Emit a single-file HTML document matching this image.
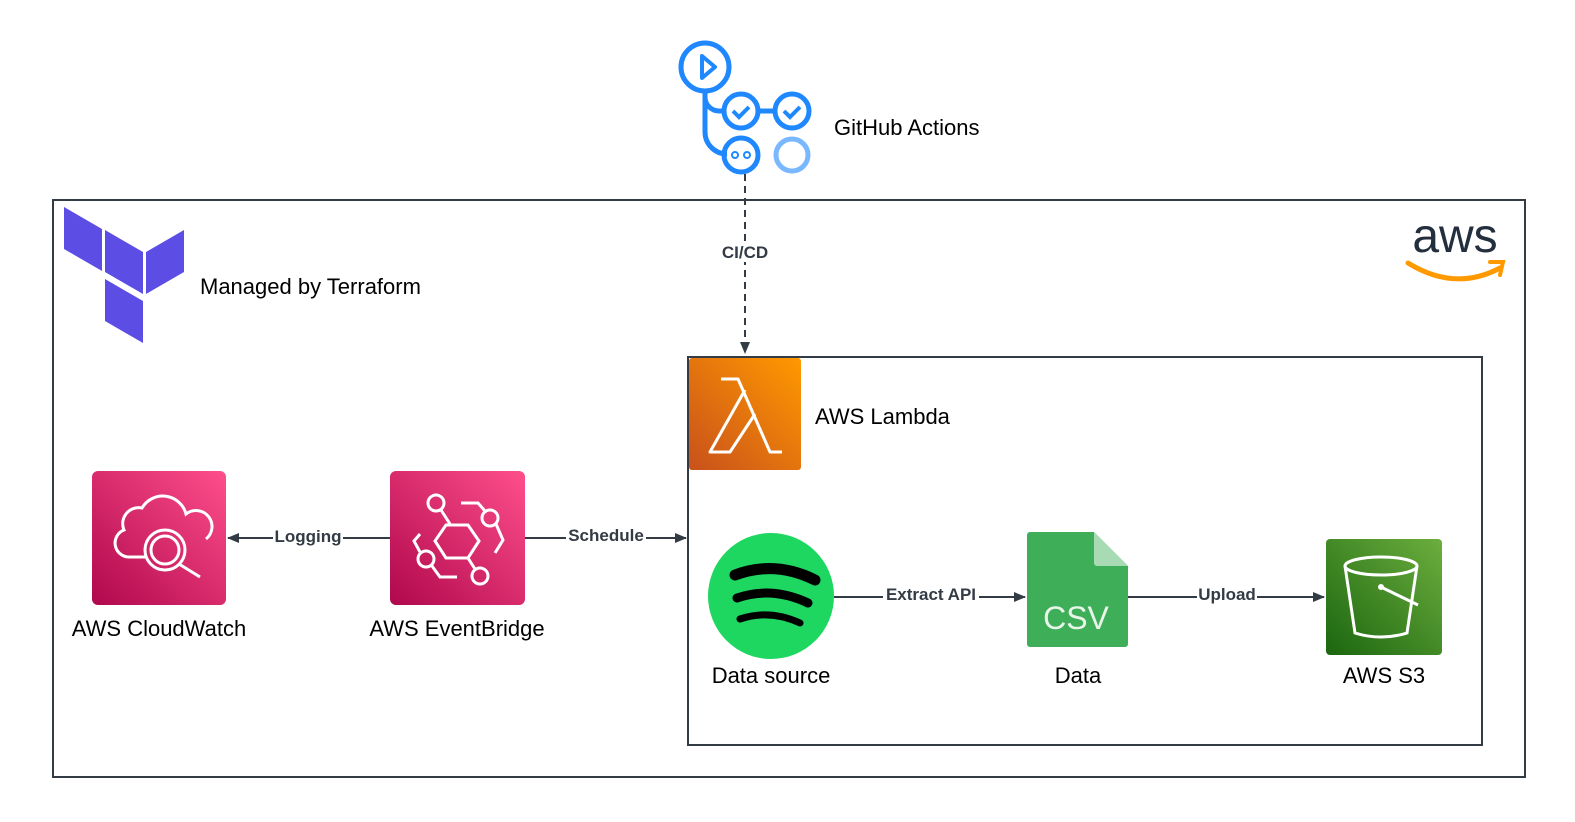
<!DOCTYPE html>
<html><head><meta charset="utf-8"><style>
html,body{margin:0;padding:0;background:#fff;width:1575px;height:822px;overflow:hidden}
text{font-family:"Liberation Sans",Arial,sans-serif}
</style></head><body>
<svg width="1575" height="822" viewBox="0 0 1575 822" xmlns="http://www.w3.org/2000/svg">
<defs>
<linearGradient id="pink" x1="0" y1="1" x2="1" y2="0"><stop offset="0" stop-color="#b0084d"/><stop offset="1" stop-color="#ff4f8b"/></linearGradient>
<linearGradient id="orange" x1="0" y1="1" x2="1" y2="0"><stop offset="0" stop-color="#c8511b"/><stop offset="1" stop-color="#ff9900"/></linearGradient>
<linearGradient id="green" x1="0" y1="1" x2="1" y2="0"><stop offset="0" stop-color="#1b660f"/><stop offset="1" stop-color="#6cae3e"/></linearGradient>
<marker id="ah" markerWidth="12" markerHeight="10" refX="11" refY="5" orient="auto" markerUnits="userSpaceOnUse"><path d="M0,0 L12,5 L0,10 Z" fill="#333b45"/></marker>
</defs>
<rect x="53" y="200" width="1472" height="577" fill="none" stroke="#333b45" stroke-width="2"/>
<rect x="688" y="357" width="794" height="388" fill="none" stroke="#333b45" stroke-width="2"/>
<g fill="none" stroke="#2088ff" stroke-width="5">
<circle cx="705" cy="67" r="24"/>
<path d="M702,56 L715,67 L702,78 Z" stroke-width="4" stroke-linejoin="round"/>
<path d="M705,91 V132 a22,22 0 0 0 22,22"/>
<path d="M705,90 V97 a14,14 0 0 0 14,14 H724"/>
<circle cx="741" cy="111" r="17"/>
<circle cx="792" cy="111" r="17"/>
<path d="M758,111 H775"/>
<path d="M733,111 l6,6 l10,-10 M784,111 l6,6 l10,-10" stroke-width="4"/>
<circle cx="741" cy="155" r="17"/>
<circle cx="792" cy="155" r="16" stroke="#79b8ff"/>
</g>
<circle cx="735" cy="155" r="3" fill="none" stroke="#2088ff" stroke-width="2"/>
<circle cx="747" cy="155" r="3" fill="none" stroke="#2088ff" stroke-width="2"/>
<text x="834" y="135" font-size="22" fill="#000">GitHub Actions</text>
<line x1="745" y1="174" x2="745" y2="353" stroke="#333b45" stroke-width="2" stroke-dasharray="7,5" marker-end="url(#ah)"/>
<rect x="716" y="242" width="59" height="20" fill="#fff"/>
<text x="745" y="258" font-size="17" font-weight="bold" fill="#333b45" text-anchor="middle">CI/CD</text>
<g fill="#5c4ee5">
<polygon points="64,207 102,229 102,271 64,249"/>
<polygon points="105,230 143,252 143,294 105,272"/>
<polygon points="146,252 184,230 184,272 146,294"/>
<polygon points="105,279 143,301 143,343 105,321"/>
</g>
<text x="200" y="294" font-size="22" fill="#000">Managed by Terraform</text>
<text x="1455" y="252" font-size="48" fill="#232f3e" text-anchor="middle">aws</text>
<path d="M1408,263 Q1455,292 1500,268" fill="none" stroke="#ff9900" stroke-width="5" stroke-linecap="round"/>
<path d="M1490,262 L1503,262 L1500,275" fill="none" stroke="#ff9900" stroke-width="4" stroke-linecap="round"/>
<rect x="689" y="358" width="112" height="112" rx="3" fill="url(#orange)"/>
<path d="M721,379 H738 L770,452 H782 M755,414 L730,452 H710 L745,390" fill="none" stroke="#fff" stroke-width="3" stroke-linejoin="round"/>
<text x="815" y="424" font-size="22" fill="#000">AWS Lambda</text>
<rect x="92" y="471" width="134" height="134" rx="6" fill="url(#pink)"/>
<g fill="none" stroke="#fff" stroke-width="3">
<path d="M145,557 H128 a14,14 0 0 1 -4,-27 a16,16 0 0 1 18,-22 a24,24 0 0 1 44,6 a14,14 0 0 1 20,25"/>
<circle cx="165" cy="550" r="20"/><circle cx="165" cy="550" r="14"/>
<path d="M179,564 L200,577"/>
</g>
<text x="159" y="636" font-size="22" fill="#000" text-anchor="middle">AWS CloudWatch</text>
<rect x="390" y="471" width="135" height="134" rx="6" fill="url(#pink)"/>
<g fill="none" stroke="#fff" stroke-width="3">
<polygon points="446,525 468,525 479,541 468,558 446,558 435,541"/>
<circle cx="436" cy="503" r="8"/><line x1="441" y1="510" x2="450" y2="524"/>
<circle cx="490" cy="518" r="8"/><path d="M461,503 H478 L485,511 M496,524 L503,540 L495,553"/>
<circle cx="426" cy="559" r="8"/><path d="M420,534 L414,541 L420,552 M432,566 L440,577 H457"/>
<circle cx="480" cy="576" r="8"/><line x1="468" y1="558" x2="475" y2="569"/>
</g>
<text x="457" y="636" font-size="22" fill="#000" text-anchor="middle">AWS EventBridge</text>
<line x1="390" y1="538" x2="228" y2="538" stroke="#333b45" stroke-width="2" marker-end="url(#ah)"/>
<rect x="273" y="527" width="70" height="20" fill="#fff"/>
<text x="308" y="542" font-size="17" font-weight="bold" fill="#333b45" text-anchor="middle">Logging</text>
<line x1="525" y1="538" x2="686" y2="538" stroke="#333b45" stroke-width="2" marker-end="url(#ah)"/>
<rect x="566" y="525" width="80" height="20" fill="#fff"/>
<text x="606" y="541" font-size="17" font-weight="bold" fill="#333b45" text-anchor="middle">Schedule</text>
<line x1="834" y1="597" x2="1025" y2="597" stroke="#333b45" stroke-width="2" marker-end="url(#ah)"/>
<rect x="883" y="585" width="96" height="20" fill="#fff"/>
<text x="931" y="600" font-size="17" font-weight="bold" fill="#333b45" text-anchor="middle">Extract API</text>
<line x1="1128" y1="597" x2="1324" y2="597" stroke="#333b45" stroke-width="2" marker-end="url(#ah)"/>
<rect x="1197" y="585" width="60" height="20" fill="#fff"/>
<text x="1227" y="600" font-size="17" font-weight="bold" fill="#333b45" text-anchor="middle">Upload</text>
<circle cx="771" cy="596" r="63" fill="#1ed760"/>
<g fill="none" stroke="#000" stroke-linecap="round">
<path d="M735,575 Q775,560 815,580" stroke-width="11"/>
<path d="M737,598 Q772,586 808,603" stroke-width="9"/>
<path d="M740,619 Q770,609 800,623" stroke-width="7"/>
</g>
<text x="771" y="683" font-size="22" fill="#000" text-anchor="middle">Data source</text>
<path d="M1030,532 H1094 L1128,566 V644 a3,3 0 0 1 -3,3 H1030 a3,3 0 0 1 -3,-3 V535 a3,3 0 0 1 3,-3 Z" fill="#3fae58"/>
<path d="M1094,532 L1128,566 H1097 a3,3 0 0 1 -3,-3 Z" fill="#a8dbb3"/>
<text x="1076" y="629" font-size="32" fill="#e8f6ea" text-anchor="middle">CSV</text>
<text x="1078" y="683" font-size="22" fill="#000" text-anchor="middle">Data</text>
<rect x="1326" y="539" width="116" height="116" rx="4" fill="url(#green)"/>
<g fill="none" stroke="#fff" stroke-width="3">
<ellipse cx="1381" cy="566" rx="36" ry="9"/>
<path d="M1345,566 L1355,633 Q1381,641 1407,633 L1417,566"/>
<path d="M1381,587 L1418,605"/>
</g>
<circle cx="1381" cy="587" r="3" fill="#fff"/>
<text x="1384" y="683" font-size="22" fill="#000" text-anchor="middle">AWS S3</text>
</svg>
</body></html>
